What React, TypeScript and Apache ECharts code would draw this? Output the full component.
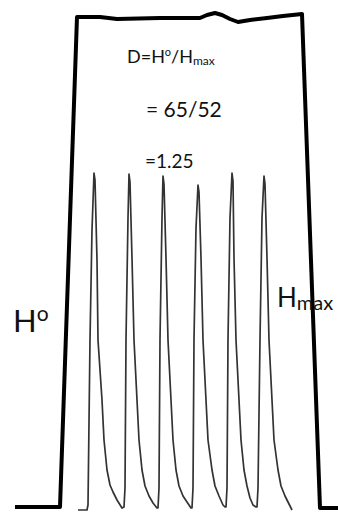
import React, { useEffect, useRef } from "react";
import * as echarts from "echarts";

// Plateau trace (x: time units, y: height above baseline)
const plateauX = [15, 60, 77, 100, 117, 160, 200, 207, 215, 222, 230, 238, 250, 267, 283, 302, 320, 338];
const plateauY = [1, 1, 491, 491, 489, 490, 490, 493, 495, 493, 489, 486, 488, 490, 492, 494, 0, 0];

// Peak trace
const peakX = [
  78, 87, 88, 90, 92, 94, 95, 97, 98, 102, 104, 107, 110, 113, 117, 122,
  124, 125, 126, 128, 129, 130, 132, 134, 137, 139, 142, 145, 149, 153, 157,
  158, 159, 160, 162, 163, 164, 166, 168, 171, 173, 176, 179, 183, 187, 191,
  192, 193, 194, 196, 198, 199, 201, 203, 206, 208, 212, 215, 219, 223, 225,
  226, 227, 228, 230, 232, 233, 234, 236, 239, 241, 244, 247, 250, 253, 256,
  257, 258, 260, 262, 264, 265, 267, 269, 272, 274, 278, 281, 285, 289, 292,
];
const peakY = [
  -2, -2, 3, 168, 278, 335, 328, 248, 168, 108, 68, 38, 23, 16, 8, 0,
  1, 20, 168, 290, 334, 326, 250, 168, 108, 68, 38, 22, 12, 5, 0,
  0, 20, 168, 290, 332, 324, 250, 168, 108, 68, 38, 22, 12, 6, 0,
  0, 20, 168, 280, 323, 316, 250, 168, 108, 68, 38, 22, 12, 3, 1,
  1, 20, 168, 290, 335, 327, 250, 168, 108, 68, 38, 22, 10, 3, 1,
  1, 20, 168, 290, 332, 324, 250, 168, 108, 68, 38, 22, 12, 4, -2,
];

const formulaLines = ["= 65/52", "=1.25"];

export default function App() {
  const ref = useRef<HTMLDivElement>(null);
  useEffect(() => {
    const chart = echarts.init(ref.current!, null, { renderer: "svg" });
    const font = "Lato";
    chart.setOption({
      animation: false,
      backgroundColor: "#ffffff",
      grid: { left: 0, right: 0, top: 0, bottom: 0 },
      xAxis: { type: "value", min: 0, max: 338, show: false },
      yAxis: { type: "value", min: -5, max: 508, show: false },
      series: [
        {
          type: "line",
          data: plateauX.map((x, i) => [x, plateauY[i]]),
          symbol: "none",
          lineStyle: { color: "#000", width: 4, join: "round" },
          z: 3,
        },
        {
          type: "line",
          data: peakX.map((x, i) => [x, peakY[i]]),
          symbol: "none",
          lineStyle: { color: "#333", width: 1.7, join: "round" },
          z: 2,
        },
      ],
      graphic: [
        {
          type: "text",
          x: 127,
          y: 46,
          z: 100,
          style: {
            text: "{a|D=H}{s|o}{a|/H}{m|max}",
            verticalAlign: "top",
            fill: "#111",
            rich: {
              a: { fontFamily: font, fontSize: 18, lineHeight: 20, fill: "#111" },
              s: { fontFamily: font, fontSize: 11, lineHeight: 16, verticalAlign: "top", fill: "#111" },
              m: { fontFamily: font, fontSize: 12, lineHeight: 12, verticalAlign: "bottom", fill: "#111" },
            },
          },
        },
        {
          type: "text",
          x: 146,
          y: 108,
          z: 100,
          style: { text: formulaLines[0], fontFamily: font, fontSize: 21, fill: "#111", verticalAlign: "middle" },
        },
        {
          type: "text",
          x: 145,
          y: 160,
          z: 100,
          style: { text: formulaLines[1], fontFamily: font, fontSize: 19, fill: "#111", verticalAlign: "middle" },
        },
        {
          type: "text",
          x: 13,
          y: 302,
          z: 100,
          style: {
            text: "{a|H}{s|o}",
            verticalAlign: "top",
            fill: "#111",
            rich: {
              a: { fontFamily: font, fontSize: 31, lineHeight: 36, fill: "#111" },
              s: { fontFamily: font, fontSize: 21, lineHeight: 16, verticalAlign: "top", fill: "#111" },
            },
          },
        },
        {
          type: "text",
          x: 277,
          y: 282,
          z: 100,
          style: {
            text: "{a|H}{m|max}",
            verticalAlign: "top",
            fill: "#111",
            rich: {
              a: { fontFamily: font, fontSize: 26, lineHeight: 30, fill: "#111" },
              m: { fontFamily: font, fontSize: 20, lineHeight: 24, verticalAlign: "bottom", fill: "#111" },
            },
          },
        },
      ],
    });
    return () => chart.dispose();
  }, []);
  return (
    <div
      ref={ref}
      style={{ position: "fixed", left: 0, top: 0, width: 338, height: 513, background: "#fff" }}
    />
  );
}
